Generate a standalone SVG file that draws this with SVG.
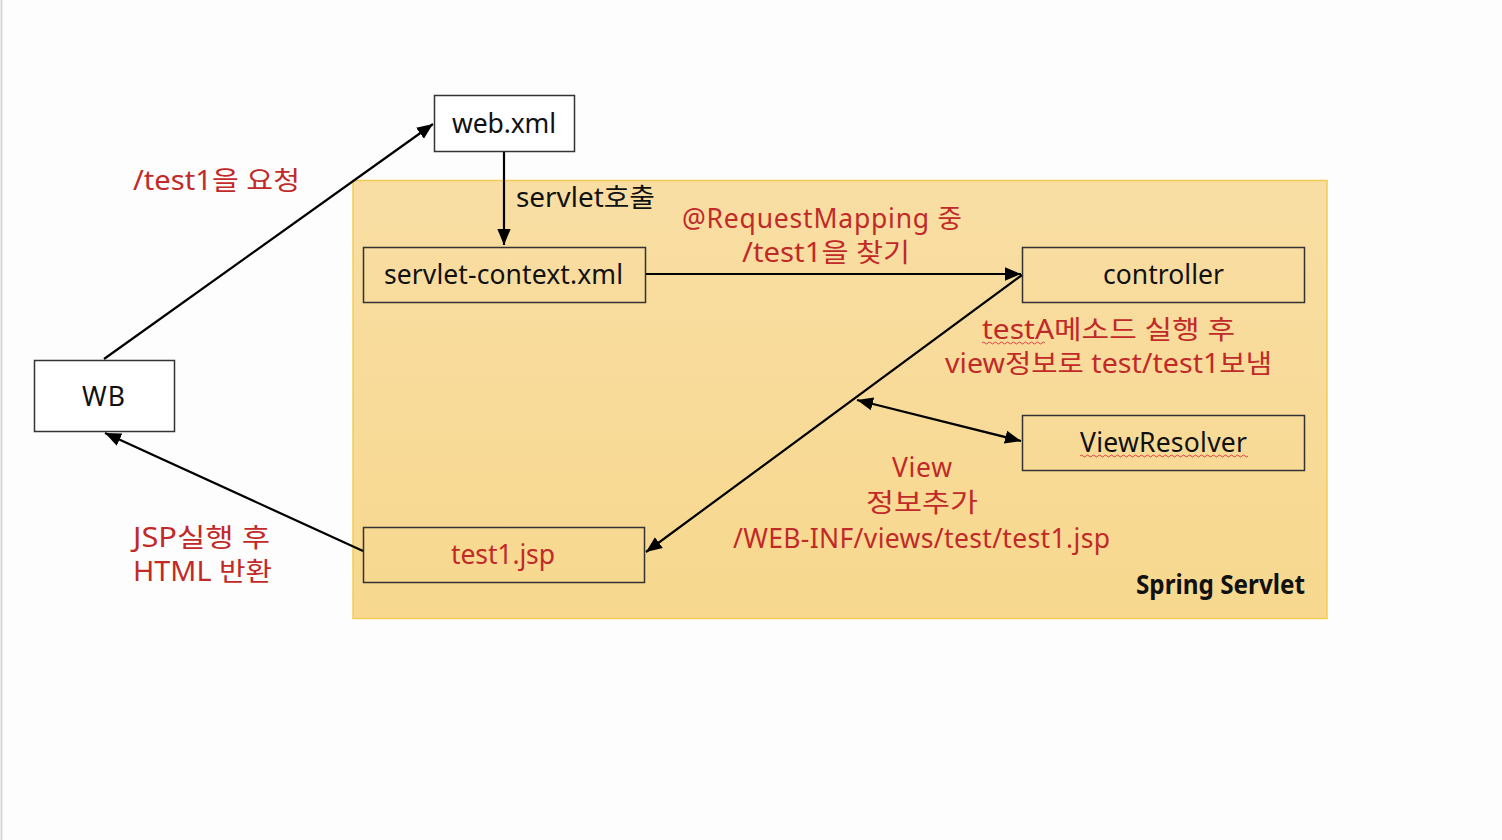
<svg xmlns="http://www.w3.org/2000/svg" width="1502" height="840" viewBox="0 0 1502 840">
<style>
text{font-family:"Noto Sans","Noto Sans CJK KR",sans-serif;font-size:26.5px;}
.lbl{fill:#111;}
.red{fill:#c12a28;}
.box{stroke:#333;stroke-width:1.5;}
.white{fill:#fff;}
.tan{fill:none;}
.conn{stroke:#000;stroke-width:2.2;fill:none;}
.wavy{stroke:#e04040;stroke-width:1;fill:none;}
</style>
<defs>
<linearGradient id="bg" x1="0" y1="0" x2="0" y2="1">
<stop offset="0" stop-color="#f9dea4"/>
<stop offset="1" stop-color="#f7d88e"/>
</linearGradient>
<marker id="arr" viewBox="0 0 12 10" refX="12" refY="5" markerWidth="16" markerHeight="14" markerUnits="userSpaceOnUse" orient="auto-start-reverse">
<path d="M0,0 L12,5 L0,10 z" fill="#000"/>
</marker>
</defs>
<rect x="0" y="0" width="1502" height="840" fill="#fdfdfd"/>
<line x1="1.5" y1="0" x2="1.5" y2="840" stroke="#d8d8d8" stroke-width="2"/>

<g id="spring-servlet">
<rect x="353" y="180.5" width="974" height="438" fill="url(#bg)" stroke="#f2cc55" stroke-width="1.5"/>
<text x="1136" y="594" font-weight="bold" fill="#111" textLength="169" lengthAdjust="spacingAndGlyphs">Spring Servlet</text>
</g>

<g id="web-xml">
<rect class="box white" x="434.5" y="95.5" width="140" height="56"/>
<text class="lbl" x="452" y="133" textLength="104">web.xml</text>
</g>
<g id="servlet-context">
<rect class="box tan" x="363.5" y="247.5" width="282" height="55"/>
<text class="lbl" x="384" y="284" textLength="239">servlet-context.xml</text>
</g>
<g id="controller">
<rect class="box tan" x="1022.5" y="247.5" width="282" height="55"/>
<text class="lbl" x="1103" y="284" textLength="121">controller</text>
</g>
<g id="viewresolver">
<rect class="box tan" x="1022.5" y="415.5" width="282" height="55"/>
<text class="lbl" x="1080" y="452" textLength="167">ViewResolver</text>
<path class="wavy" d="M1080,456 q1.5,-2 3,0 t3,0 t3,0 t3,0 t3,0 t3,0 t3,0 t3,0 t3,0 t3,0 t3,0 t3,0 t3,0 t3,0 t3,0 t3,0 t3,0 t3,0 t3,0 t3,0 t3,0 t3,0 t3,0 t3,0 t3,0 t3,0 t3,0 t3,0 t3,0 t3,0 t3,0 t3,0 t3,0 t3,0 t3,0 t3,0 t3,0 t3,0 t3,0 t3,0 t3,0 t3,0 t3,0 t3,0 t3,0 t3,0 t3,0 t3,0 t3,0 t3,0 t3,0 t3,0 t3,0 t3,0 t3,0 t3,0"/>
</g>
<g id="test1-jsp">
<rect class="box tan" x="363.5" y="527.5" width="281" height="55"/>
<text class="red" x="451" y="564" textLength="104">test1.jsp</text>
</g>
<g id="wb">
<rect class="box white" x="34.5" y="360.5" width="140" height="71"/>
<text class="lbl" x="82" y="406" textLength="43">WB</text>
</g>

<g id="connectors">
<line class="conn" x1="104" y1="359" x2="433" y2="124" marker-end="url(#arr)"/>
<line class="conn" x1="504" y1="152" x2="504" y2="245" marker-end="url(#arr)"/>
<line class="conn" x1="646" y1="274" x2="1021" y2="274" marker-end="url(#arr)"/>
<line class="conn" x1="1022" y1="275" x2="646" y2="552" marker-end="url(#arr)"/>
<line class="conn" x1="857" y1="400" x2="1021" y2="441" marker-start="url(#arr)" marker-end="url(#arr)"/>
<line class="conn" x1="363" y1="551" x2="105" y2="433" marker-end="url(#arr)"/>
</g>

<g id="labels">
<text class="red" x="133" y="190" textLength="167" lengthAdjust="spacingAndGlyphs">/test1을 요청</text>
<text fill="#111" x="516" y="207" textLength="139" lengthAdjust="spacingAndGlyphs">servlet호출</text>
<text class="red" x="682" y="228" textLength="280">@RequestMapping 중</text>
<text class="red" x="742" y="262" textLength="168" lengthAdjust="spacingAndGlyphs">/test1을 찾기</text>
<text class="red" x="982" y="339" textLength="253" lengthAdjust="spacingAndGlyphs">testA메소드 실행 후</text>
<path class="wavy" d="M982,343 q1.5,-2 3,0 t3,0 t3,0 t3,0 t3,0 t3,0 t3,0 t3,0 t3,0 t3,0 t3,0 t3,0 t3,0 t3,0 t3,0 t3,0 t3,0 t3,0 t3,0 t3,0 t3,0"/>
<text class="red" x="945" y="373" textLength="327" lengthAdjust="spacingAndGlyphs">view정보로 test/test1보냄</text>
<text class="red" x="892" y="477" textLength="60">View</text>
<text class="red" x="866" y="512" textLength="112" lengthAdjust="spacingAndGlyphs">정보추가</text>
<text class="red" x="733" y="548" textLength="377">/WEB-INF/views/test/test1.jsp</text>
<text class="red" x="133" y="547" textLength="137" lengthAdjust="spacingAndGlyphs">JSP실행 후</text>
<text class="red" x="133" y="581" textLength="139" lengthAdjust="spacingAndGlyphs">HTML 반환</text>
</g>
</svg>
